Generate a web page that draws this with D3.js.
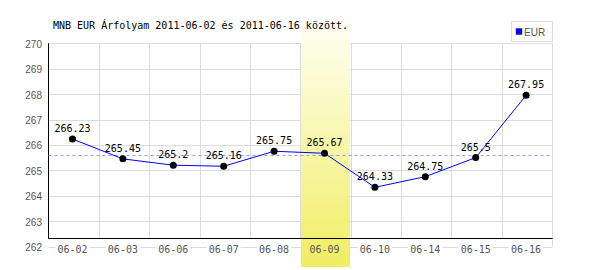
<!DOCTYPE html>
<html>
<head>
<meta charset="utf-8">
<script src="https://cdn.jsdelivr.net/npm/d3@7"></script>
<style>
  body { margin: 0; background: #fff; }
  svg { display: block; }
</style>
</head>
<body>
<div id="chart"></div>
<script>
// Chart data
const dates = ["06-02", "06-03", "06-06", "06-07", "06-08", "06-09", "06-10", "06-14", "06-15", "06-16"];
const rates = [266.23, 265.45, 265.2, 265.16, 265.75, 265.67, 264.33, 264.75, 265.5, 267.95];
const yTicks = [262, 263, 264, 265, 266, 267, 268, 269, 270];
const avgRate = 265.6;
const highlightDate = "06-09";
const title = "MNB EUR Árfolyam 2011-06-02 és 2011-06-16 között.";
const seriesName = "EUR";

const width = 600, height = 270;
const mono = "'DejaVu Sans Mono', monospace";
const sans = "'Liberation Sans', Arial, sans-serif";

const svg = d3.select("#chart")
    .append("svg")
    .attr("width", width)
    .attr("height", height);

// Scales
const x = d3.scaleBand()
    .domain(dates)
    .range([48.3, 552.3])
    .padding(0);

const y = d3.scaleLinear()
    .domain([262, 270])
    .range([246.5, 43.3]);

const cx = d => x(d) + x.bandwidth() / 2 - 1;
const axisY = 238.5;

// Gradient for the highlighted day
const grad = svg.append("defs").append("linearGradient")
    .attr("id", "hl")
    .attr("x1", 0).attr("y1", 0).attr("x2", 0).attr("y2", 1);
grad.append("stop").attr("offset", "0%").attr("stop-color", "#fffff4");
grad.append("stop").attr("offset", "100%").attr("stop-color", "#f0ee62");

// Horizontal grid
svg.append("g")
    .selectAll("line")
    .data(yTicks)
    .enter().append("line")
    .attr("x1", x.range()[0])
    .attr("x2", x.range()[1])
    .attr("y1", d => Math.round(y(d)) + 0.5)
    .attr("y2", d => Math.round(y(d)) + 0.5)
    .attr("stroke", "#dcdcdc");

// Vertical grid at band edges
svg.append("g")
    .selectAll("line")
    .data(dates.slice(1))
    .enter().append("line")
    .attr("x1", d => Math.round(x(d)) + 0.5)
    .attr("x2", d => Math.round(x(d)) + 0.5)
    .attr("y1", y(270))
    .attr("y2", axisY)
    .attr("stroke", "#dcdcdc");

svg.append("line")
    .attr("x1", 552.5).attr("x2", 552.5)
    .attr("y1", y(270)).attr("y2", y(262))
    .attr("stroke", "#dcdcdc");

// White boxes behind x labels (break the bottom grid line)
svg.append("g")
    .selectAll("rect")
    .data(dates)
    .enter().append("rect")
    .attr("x", d => cx(d) - 17)
    .attr("y", 242)
    .attr("width", 34)
    .attr("height", 11)
    .attr("fill", "#fff");

// Highlight band
svg.append("rect")
    .attr("x", Math.round(x(highlightDate)) + 1)
    .attr("y", 22)
    .attr("width", Math.round(x.bandwidth()) - 1)
    .attr("height", 245)
    .attr("fill", "url(#hl)");

// Axes lines
svg.append("line")
    .attr("x1", 48.5).attr("x2", 48.5)
    .attr("y1", y(270)).attr("y2", axisY + 0.5)
    .attr("stroke", "#000");
svg.append("line")
    .attr("x1", 48).attr("x2", 552.5)
    .attr("y1", axisY).attr("y2", axisY)
    .attr("stroke", "#000");

// Y tick labels
svg.append("g")
    .selectAll("text")
    .data(yTicks)
    .enter().append("text")
    .attr("x", 42)
    .attr("y", d => y(d) + 4.5)
    .attr("text-anchor", "end")
    .style("font-family", sans)
    .style("font-size", "10px")
    .attr("fill", "#555")
    .text(d => d);

// X tick labels
svg.append("g")
    .selectAll("text")
    .data(dates)
    .enter().append("text")
    .attr("x", d => cx(d))
    .attr("y", 252.5)
    .attr("text-anchor", "middle")
    .style("font-family", mono)
    .style("font-size", "10px")
    .attr("fill", "#555")
    .text(d => d);

// Average line
svg.append("line")
    .attr("x1", 48.5).attr("x2", 552)
    .attr("y1", Math.round(y(avgRate)) + 0.5)
    .attr("y2", Math.round(y(avgRate)) + 0.5)
    .attr("stroke", "#9999ff")
    .attr("stroke-dasharray", "3,3");

// Rate line
const line = d3.line()
    .x((d, i) => cx(dates[i]))
    .y(d => y(d));

svg.append("path")
    .datum(rates)
    .attr("d", line)
    .attr("fill", "none")
    .attr("stroke", "#0000ff")
    .attr("stroke-width", 1);

// Points
svg.append("g")
    .selectAll("circle")
    .data(rates)
    .enter().append("circle")
    .attr("cx", (d, i) => cx(dates[i]))
    .attr("cy", d => y(d))
    .attr("r", 3.5)
    .attr("fill", "#000");

// Value labels
svg.append("g")
    .selectAll("text")
    .data(rates)
    .enter().append("text")
    .attr("x", (d, i) => cx(dates[i]))
    .attr("y", d => y(d) - 7)
    .attr("text-anchor", "middle")
    .style("font-family", mono)
    .style("font-size", "10px")
    .attr("fill", "#000")
    .text(d => d);

// Title
svg.append("text")
    .attr("x", 53)
    .attr("y", 28.5)
    .style("font-family", mono)
    .style("font-size", "10px")
    .attr("fill", "#000")
    .text(title);

// Legend
const legend = svg.append("g");
legend.append("rect")
    .attr("x", 511.5).attr("y", 21.5)
    .attr("width", 41).attr("height", 20)
    .attr("fill", "#fff")
    .attr("stroke", "#dcdcdc");
legend.append("rect")
    .attr("x", 516).attr("y", 28.5)
    .attr("width", 6).attr("height", 6)
    .attr("fill", "#0000ff")
    .attr("stroke", "#333")
    .attr("stroke-width", 0.5);
legend.append("text")
    .attr("x", 524)
    .attr("y", 35.5)
    .style("font-family", sans)
    .style("font-size", "10px")
    .attr("fill", "#555")
    .text(seriesName);
</script>
</body>
</html>
